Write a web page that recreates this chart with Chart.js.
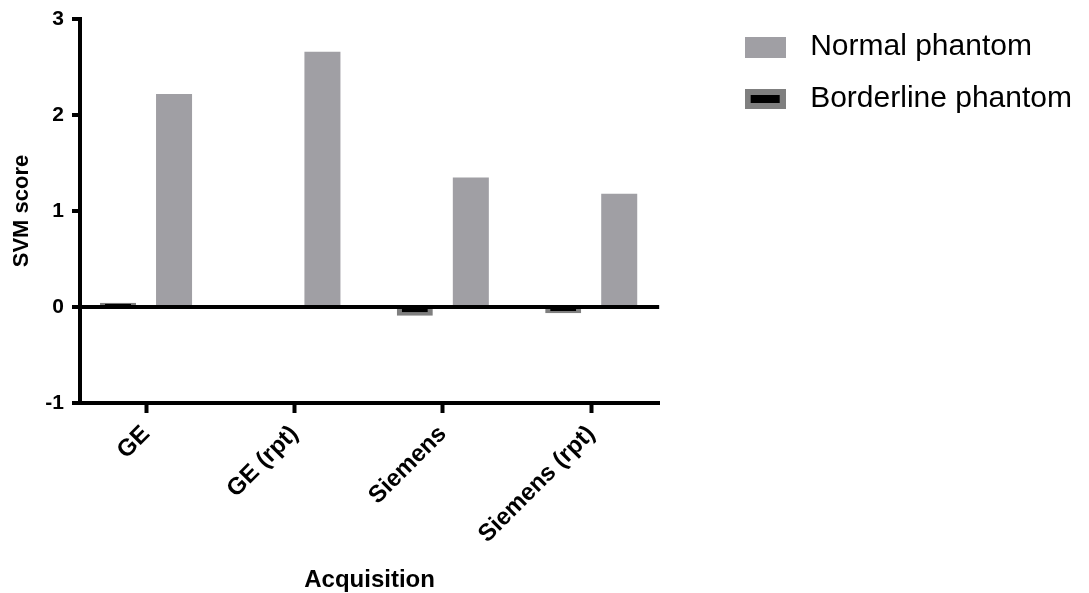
<!DOCTYPE html>
<html>
<head>
<meta charset="utf-8">
<title>SVM score by acquisition</title>
<script src="https://cdn.jsdelivr.net/npm/chart.js@4.4.1/dist/chart.umd.min.js"></script>
<style>
  html, body { margin: 0; padding: 0; background: #ffffff; }
  canvas { display: block; }
</style>
</head>
<body>
<canvas id="chart" width="1089" height="593"></canvas>
<script>
// Acquisitions on the x axis
const categories = ['GE', 'GE (rpt)', 'Siemens', 'Siemens (rpt)'];
// SVM scores per phantom
const borderlineScores = [0.045, 0, -0.09, -0.065];
const normalScores = [2.22, 2.66, 1.35, 1.18];
const seriesNames = ['Borderline phantom', 'Normal phantom'];
// y axis ticks
const yTicks = [-1, 0, 1, 2, 3];

const FONT = "'Liberation Sans', Arial, Helvetica, sans-serif";
const NORMAL_GREY = '#a09fa4';
const FRAME_GREY = '#7f7f7f';

// Legend swatches: plain grey block and grey-framed black block
function makeSwatch(w, h, paint) {
  const c = document.createElement('canvas');
  c.width = w; c.height = h;
  paint(c.getContext('2d'), w, h);
  return c;
}
const swatches = [
  makeSwatch(41, 20, (g, w, h) => {
    g.fillStyle = FRAME_GREY; g.fillRect(0, 0, w, h);
    g.fillStyle = '#000000'; g.fillRect(6, 6, w - 12, h - 12);
  }),
  makeSwatch(41, 21, (g, w, h) => {
    g.fillStyle = NORMAL_GREY; g.fillRect(0, 0, w, h);
  })
];

const toPoints = values => values.map((v, i) => ({ x: i, y: v }));

const barShape = { categoryPercentage: 0.755, barPercentage: 0.643 };

new Chart(document.getElementById('chart'), {
  type: 'bar',
  data: {
    datasets: [
      Object.assign({
        label: seriesNames[0],
        data: toPoints(borderlineScores),
        backgroundColor: '#000000',
        borderColor: FRAME_GREY,
        borderWidth: 5,
        borderSkipped: 'start'
      }, barShape),
      Object.assign({
        label: seriesNames[1],
        data: toPoints(normalScores),
        backgroundColor: NORMAL_GREY,
        borderWidth: 0
      }, barShape)
    ]
  },
  options: {
    responsive: false,
    animation: false,
    devicePixelRatio: 1,
    events: [],
    layout: { padding: { top: 10, right: 7, bottom: 0, left: 0 } },
    plugins: {
      tooltip: { enabled: false },
      legend: {
        position: 'right',
        align: 'start',
        reverse: true,
        maxWidth: 500,
        labels: {
          usePointStyle: true,
          pointStyleWidth: 60,
          padding: 22,
          color: '#000000',
          font: { family: FONT, size: 30 },
          generateLabels: chart =>
            Chart.defaults.plugins.legend.labels.generateLabels(chart).map(item =>
              Object.assign({}, item, { pointStyle: swatches[item.datasetIndex] }))
        }
      }
    },
    scales: {
      x: {
        type: 'linear',
        min: -0.445,
        max: 3.458,
        offset: false,
        z: 1,
        afterBuildTicks: s => { s.ticks = categories.map((_, i) => ({ value: i })); },
        afterFit: s => { s.height = 190; },
        ticks: {
          callback: (v, i) => categories[i],
          minRotation: 45,
          maxRotation: 45,
          autoSkip: false,
          padding: 7,
          color: '#000000',
          font: { family: FONT, size: 24, weight: 'bold' }
        },
        grid: {
          offset: false,
          drawOnChartArea: false,
          tickLength: 10,
          tickWidth: 4,
          tickColor: '#000000'
        },
        border: { color: '#000000', width: 4 },
        title: {
          display: true,
          text: 'Acquisition',
          color: '#000000',
          font: { family: FONT, size: 24, weight: 'bold' },
          padding: { top: 0, bottom: -2 }
        }
      },
      y: {
        min: -1,
        max: 3,
        z: 1,
        afterBuildTicks: s => { s.ticks = yTicks.map(v => ({ value: v })); },
        afterFit: s => { s.width = 80; s.paddingTop = 19; },
        ticks: {
          padding: 8,
          color: '#000000',
          font: { family: FONT, size: 21, weight: 'bold' }
        },
        grid: {
          color: '#000000',
          lineWidth: c => (c.tick && c.tick.value === 0 ? 4 : 0),
          tickLength: 8,
          tickWidth: 4,
          tickColor: '#000000'
        },
        border: { color: '#000000', width: 4 },
        title: {
          display: true,
          text: 'SVM score',
          color: '#000000',
          font: { family: FONT, size: 22, weight: 'bold' },
          padding: { top: 9, bottom: 0 }
        }
      },
      // empty right-hand axis keeping a gap between the plot and the legend
      yGap: {
        type: 'linear',
        position: 'right',
        display: true,
        ticks: { display: false },
        grid: { display: false },
        border: { display: false },
        afterFit: s => { s.width = 54; }
      }
    }
  }
});
</script>
</body>
</html>
